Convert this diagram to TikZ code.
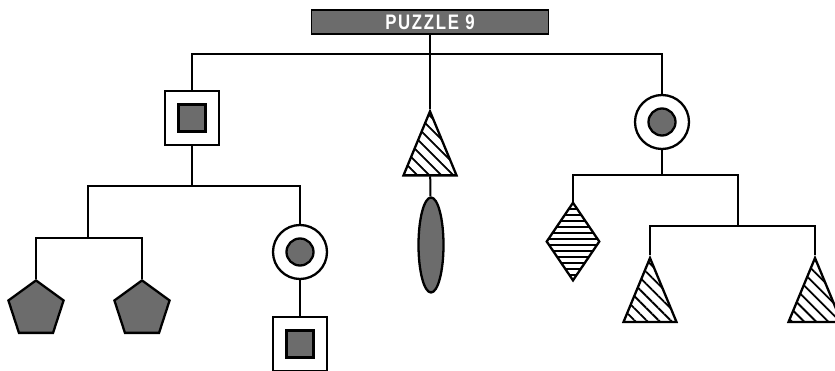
\documentclass[tikz,border=0pt]{standalone}
\usepackage{fontspec}
\setsansfont{Liberation Sans}
\usetikzlibrary{shapes.geometric, patterns.meta}
\definecolor{puzzlegray}{RGB}{108,108,108}

\begin{document}
\begin{tikzpicture}[x=1pt, y=-1pt,
    frame/.style={rectangle, draw, fill=white, minimum size=54pt, inner sep=0pt},
    core/.style={rectangle, draw, fill=puzzlegray, minimum size=27pt, inner sep=0pt},
    ring/.style={circle, draw, fill=white, minimum size=54pt, inner sep=0pt},
    dot/.style={circle, draw, fill=puzzlegray, minimum size=27pt, inner sep=0pt},
    penta/.style={regular polygon, regular polygon sides=5, draw, fill=puzzlegray,
                  minimum size=58pt, inner sep=0pt},
    spike/.style={isosceles triangle, isosceles triangle stretches, shape border rotate=90,
                  draw, minimum width=53pt, minimum height=64pt, inner sep=0pt,
                  pattern={Lines[angle=-45, distance=8.5pt, line width=1.8pt]}},
    rhomb/.style={diamond, draw, minimum width=53pt, minimum height=78pt, inner sep=0pt,
                  pattern={Lines[angle=0, distance=6pt, line width=1.1pt]}},
    drop/.style={ellipse, draw, fill=puzzlegray, minimum width=25pt, minimum height=95pt,
                 inner sep=0pt},
    banner/.style={rectangle, draw, line width=1.6pt, fill=puzzlegray, text=white,
                   minimum width=237pt, minimum height=24pt, inner sep=0pt,
                   font=\sffamily\bfseries},
    wire/.style={line width=2pt}
]
\clip (0,0) rectangle (835,371);
\useasboundingbox (0,0) rectangle (835,371);

\begin{scope}[line width=2.3pt]
\node[banner] (title) at (430,22)
  {\scalebox{0.8}[1]{\fontsize{21}{21}\selectfont\addfontfeature{LetterSpace=10}PUZZLE 9}};

% left branch
\node[frame] (sqA) at (192,118) {};
\node[core] (sqAin) at (192,118) {};
\node[penta, anchor=corner 1] (pentL) at (36,279) {};
\node[penta, anchor=corner 1] (pentR) at (142,279) {};
\node[ring] (circA) at (300,252) {};
\node[dot] (circAin) at (300,252) {};
\node[frame] (sqB) at (300,344) {};
\node[core] (sqBin) at (300,344) {};

% middle branch
\node[spike, anchor=apex] (triM) at (430,109) {};
\node[drop] (ellM) at (431,245) {};

% right branch
\node[ring] (circB) at (662,122) {};
\node[dot] (circBin) at (662,122) {};
\node[rhomb, anchor=north] (diam) at (573,202) {};
\node[spike, anchor=apex] (triL) at (650,255) {};
\node[spike, anchor=apex] (triR) at (815,255) {};
\end{scope}

\coordinate (top) at (430,54);
\coordinate (lbar) at (192,186);
\coordinate (pentbar) at (88,238);
\coordinate (rbar) at (662,175);
\coordinate (tribar) at (738,226);

\draw[wire] (title) -- (triM);
\draw[wire] (sqA) |- (top) -| (circB);
\draw[wire] (sqA) -- (lbar);
\draw[wire] (pentbar) |- (lbar) -| (circA);
\draw[wire] (pentL) |- (pentbar) -| (pentR);
\draw[wire] (circA) -- (sqB);
\draw[wire] (triM) -- (ellM);
\draw[wire] (circB) -- (rbar);
\draw[wire] (diam) |- (rbar) -| (tribar);
\draw[wire] (triL) |- (tribar) -| (triR);
\end{tikzpicture}
\end{document}
